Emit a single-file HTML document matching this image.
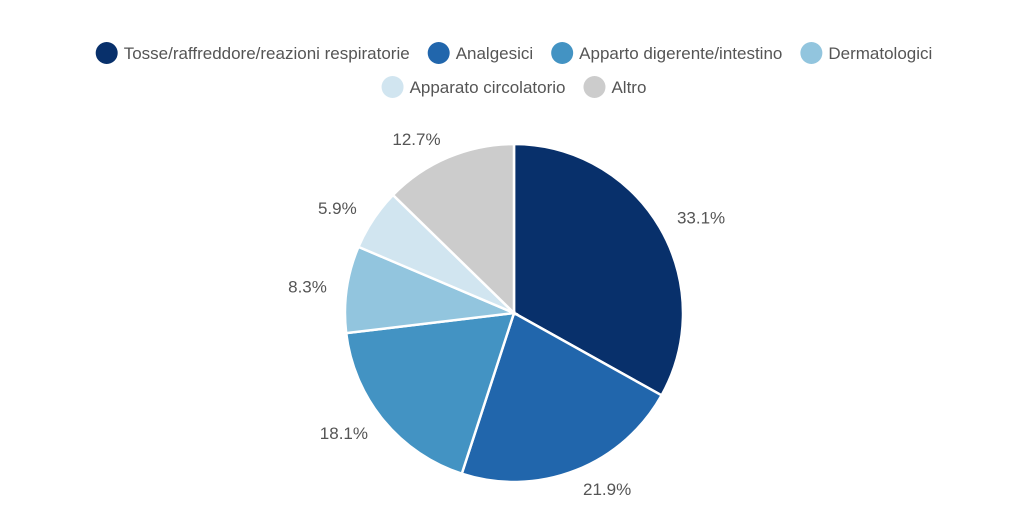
<!DOCTYPE html>
<html><head><meta charset="utf-8">
<style>
html,body{margin:0;padding:0;background:#fff;}
body{width:1028px;height:514px;overflow:hidden;font-family:"Liberation Sans",sans-serif;}
</style></head>
<body>
<svg id="chart" width="1028" height="514" viewBox="0 0 1028 514" xmlns="http://www.w3.org/2000/svg"></svg>
<script>
const categories = ["Tosse/raffreddore/reazioni respiratorie","Analgesici","Apparto digerente/intestino","Dermatologici","Apparato circolatorio","Altro"];
const values = [33.1, 21.9, 18.1, 8.3, 5.9, 12.7];
const valueLabels = ["33.1%","21.9%","18.1%","8.3%","5.9%","12.7%"];
const colors = ["#08306b","#2166ac","#4393c3","#92c5de","#d1e5f0","#cccccc"];

const svg = document.getElementById('chart');
const NS = "http://www.w3.org/2000/svg";
const cx = 514, cy = 313, r = 169;

function mk(tag, attrs){const e=document.createElementNS(NS,tag);for(const k in attrs)e.setAttribute(k,attrs[k]);return e;}

// legend
const rows = [[0,1,2,3],[4,5]];
const rowY = [53,87];
const ctx = document.createElement('canvas').getContext('2d');
ctx.font = '17px "Liberation Sans"';
rows.forEach((row,ri)=>{
  const widths = row.map(i=>22+6+ctx.measureText(categories[i]).width);
  const gap = 18;
  const total = widths.reduce((a,b)=>a+b,0)+gap*(row.length-1);
  let x = 514 - total/2;
  row.forEach((i,j)=>{
    const g = mk('g',{});
    
    
    g.appendChild(mk('circle',{cx:x+11,cy:rowY[ri],r:11,fill:colors[i]}));
    const t = mk('text',{x:x+28,y:rowY[ri]+6,'font-size':17,fill:'#555'});
    t.textContent = categories[i];
    g.appendChild(t);
    svg.appendChild(g);
    x += widths[j]+gap;
  });
});

// pie
const total = values.reduce((a,b)=>a+b,0);
let acc = 0;
values.forEach((v,i)=>{
  const a0 = acc/total*2*Math.PI, a1 = (acc+v)/total*2*Math.PI;
  acc += v;
  const p = a=>[cx+r*Math.sin(a), cy-r*Math.cos(a)];
  const [x0,y0]=p(a0),[x1,y1]=p(a1);
  const large = (a1-a0)>Math.PI?1:0;
  const path = mk('path',{d:`M${cx},${cy} L${x0},${y0} A${r},${r} 0 ${large} 1 ${x1},${y1} Z`,fill:colors[i],stroke:'#fff','stroke-width':2.5});
  
  
  svg.appendChild(path);
  const am = (a0+a1)/2, lr = r+20;
  const lx = cx+lr*Math.sin(am), ly = cy-lr*Math.cos(am);
  const s = Math.sin(am);
  const anchor = s>0.25?'start':(s<-0.25?'end':'middle');
  const t = mk('text',{x:lx,y:ly+6,'font-size':17,fill:'#555','text-anchor':anchor});
  t.textContent = valueLabels[i];
  
  
  svg.appendChild(t);
});
</script>
</body></html>
